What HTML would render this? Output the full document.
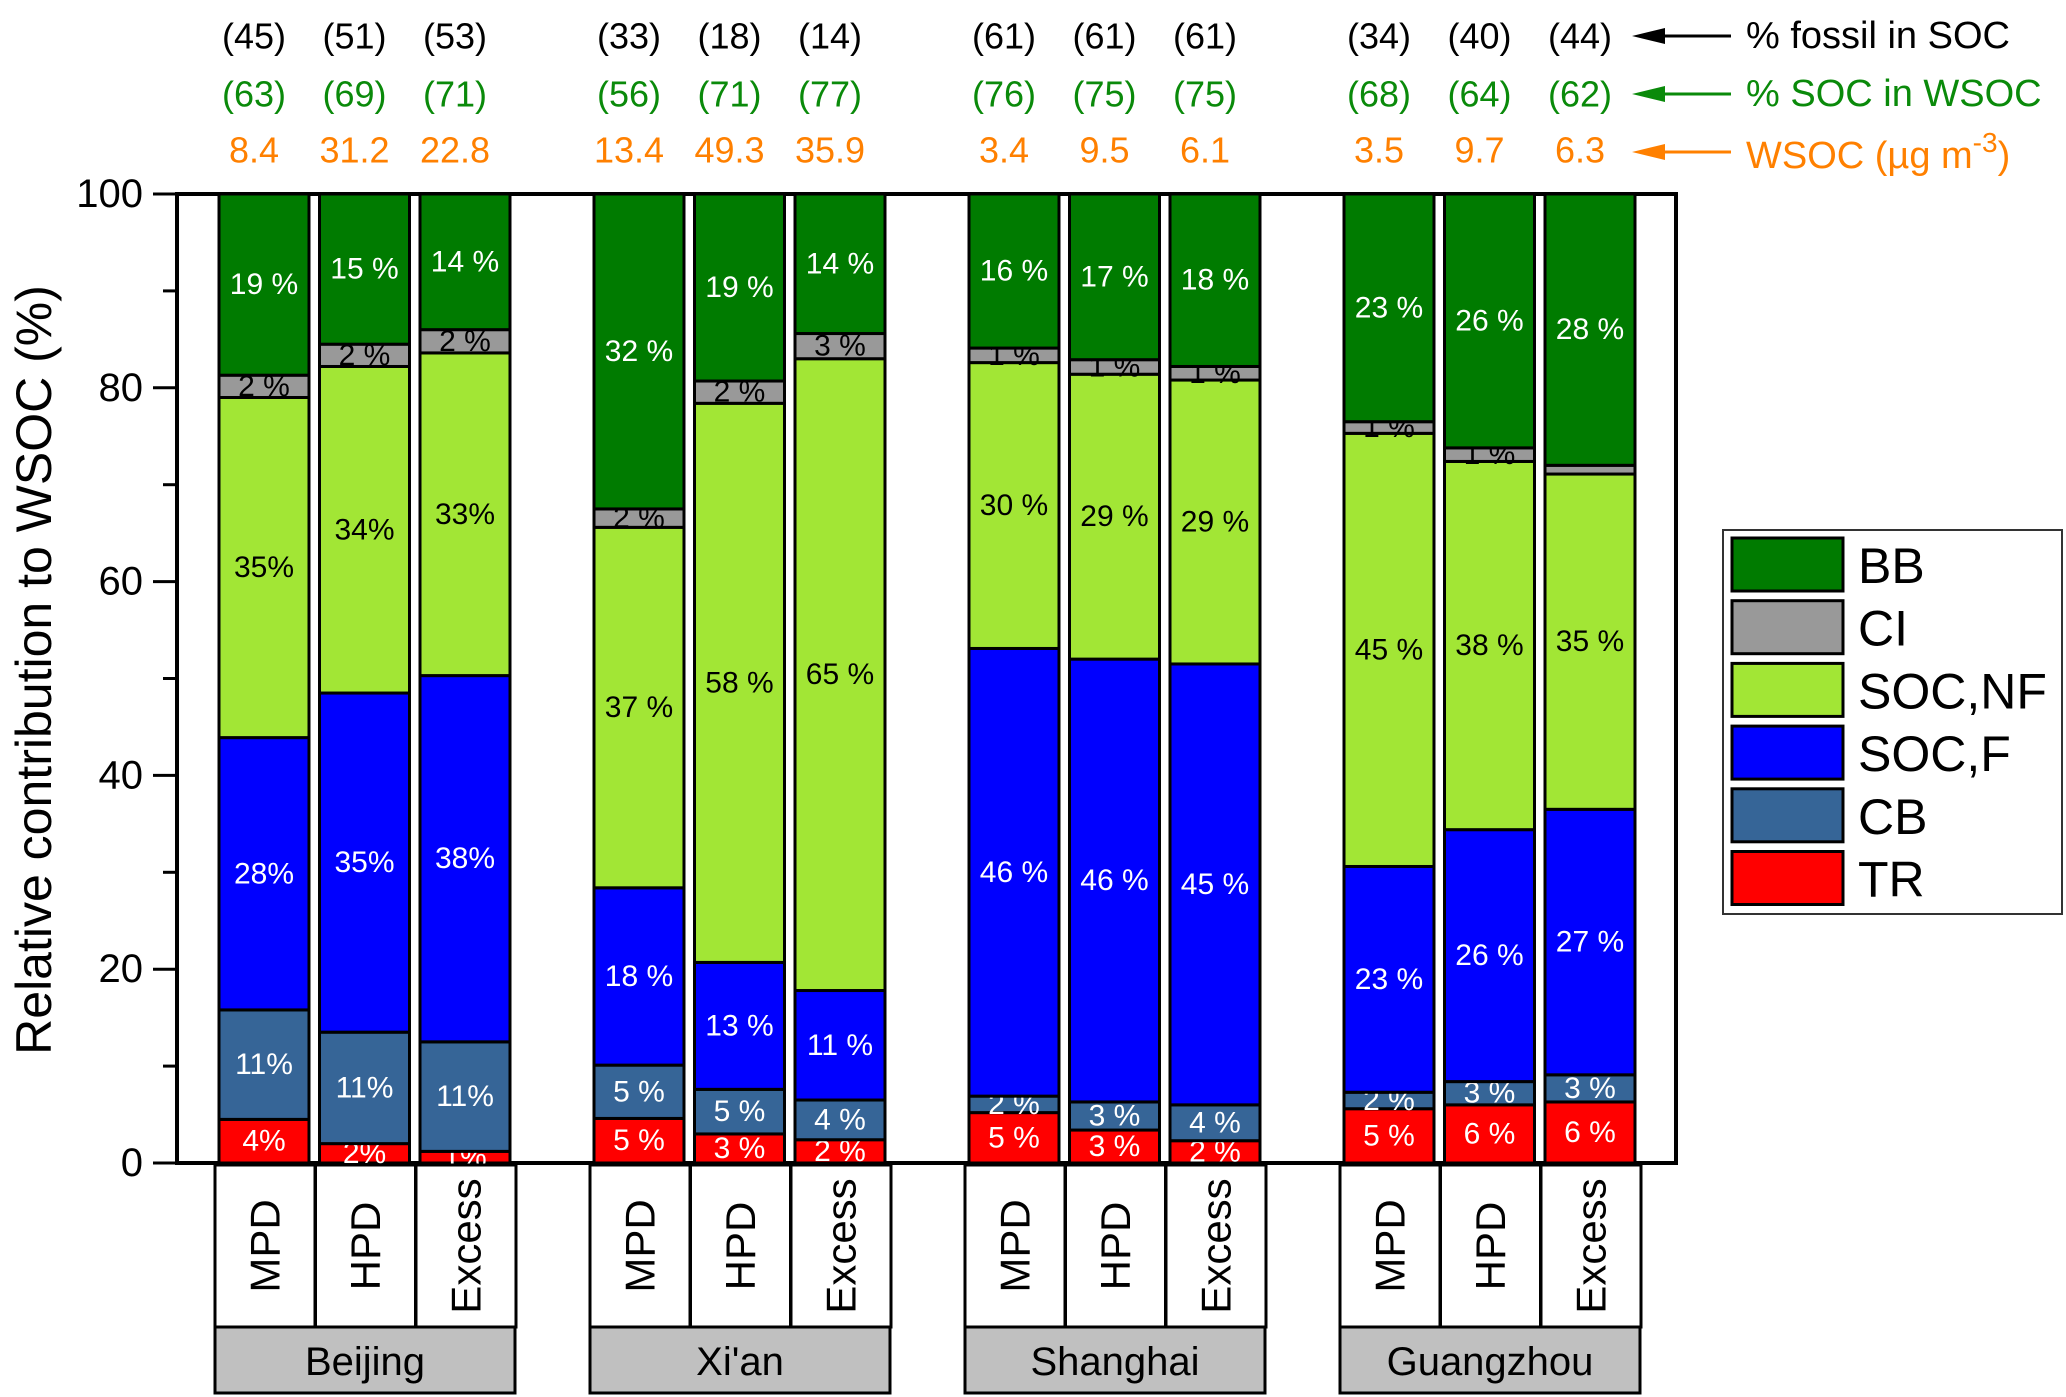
<!DOCTYPE html>
<html><head><meta charset="utf-8"><style>
html,body{margin:0;padding:0;background:#fff}
svg{display:block;font-family:"Liberation Sans Narrow","Liberation Sans",Arial,sans-serif}
</style></head><body>
<svg id="chart" width="2066" height="1397" viewBox="0 0 2066 1397" xmlns="http://www.w3.org/2000/svg">
<g id="plot"></g>
</svg>
<script>
const cities = ["Beijing","Xi'an","Shanghai","Guangzhou"];
const periods = ["MPD","HPD","Excess"];
const seriesNames = ["TR","CB","SOC,F","SOC,NF","CI","BB"];
const seriesColors = ["#ff0000","#366597","#0000ff","#a2e635","#999999","#007b00"];
const TR  = [4.5,2.0,1.2, 4.6,3.0,2.4, 5.2,3.4,2.3, 5.6,6.0,6.3];
const CB  = [11.3,11.5,11.3, 5.5,4.6,4.1, 1.7,2.9,3.7, 1.7,2.4,2.8];
const SOCF= [28.1,35.0,37.8, 18.3,13.1,11.3, 46.2,45.7,45.5, 23.3,26.0,27.4];
const SOCNF=[35.1,33.7,33.3, 37.2,57.7,65.2, 29.5,29.4,29.3, 44.7,38.0,34.6];
const CI  = [2.3,2.3,2.4, 1.9,2.3,2.6, 1.5,1.5,1.4, 1.2,1.4,0.9];
const BB  = [18.7,15.5,14.0, 32.5,19.3,14.4, 15.9,17.1,17.8, 23.5,26.2,28.0];
const labTR = ["4%","2%","1%","5 %","3 %","2 %","5 %","3 %","2 %","5 %","6 %","6 %"];
const labCB = ["11%","11%","11%","5 %","5 %","4 %","2 %","3 %","4 %","2 %","3 %","3 %"];
const labF  = ["28%","35%","38%","18 %","13 %","11 %","46 %","46 %","45 %","23 %","26 %","27 %"];
const labNF = ["35%","34%","33%","37 %","58 %","65 %","30 %","29 %","29 %","45 %","38 %","35 %"];
const labCI = ["2 %","2 %","2 %","2 %","2 %","3 %","1 %","1 %","1 %","1 %","1 %",""];
const labBB = ["19 %","15 %","14 %","32 %","19 %","14 %","16 %","17 %","18 %","23 %","26 %","28 %"];
const fossil = ["(45)","(51)","(53)","(33)","(18)","(14)","(61)","(61)","(61)","(34)","(40)","(44)"];
const socIn  = ["(63)","(69)","(71)","(56)","(71)","(77)","(76)","(75)","(75)","(68)","(64)","(62)"];
const wsoc   = ["8.4","31.2","22.8","13.4","49.3","35.9","3.4","9.5","6.1","3.5","9.7","6.3"];
const yTicks = [0,20,40,60,80,100];

const NS="http://www.w3.org/2000/svg";
const svg=document.getElementById('chart');
const g=document.getElementById('plot');
const Y0=1163, Y100=194;
const y=v=>Y0-(Y0-Y100)*v/100;
const barX=i=>219+Math.floor(i/3)*375+(i%3)*100.5;
const BW=90;
function mk(tag,attrs,parent){const e=document.createElementNS(NS,tag);for(const k in attrs)e.setAttribute(k,attrs[k]);(parent||g).appendChild(e);return e;}
function txt(x,yy,s,size,fill,anchor,parent){const t=mk('text',{x:x,y:yy,'font-size':size,fill:fill,'text-anchor':anchor||'middle','dominant-baseline':'central'},parent);t.textContent=s;return t;}

const frame=mk('rect',{x:177,y:Y100,width:1499,height:Y0-Y100,fill:'none',stroke:'#000','stroke-width':4});


for(let v=0;v<=100;v+=10){
  const len=v%20===0?24:14;
  const tk=mk('line',{x1:177-len,x2:177,y1:y(v),y2:y(v),stroke:'#000','stroke-width':3});
  
  
}
yTicks.forEach(v=>{
  const t=txt(143,y(v),String(v),40,'#000','end');
  
  
});
const yt=txt(0,0,'Relative contribution to WSOC (%)',50,'#000','middle');
yt.setAttribute('transform','translate(34,670) rotate(-90)');
yt.setAttribute('font-family','"Liberation Sans",Arial,sans-serif');



const series=[TR,CB,SOCF,SOCNF,CI,BB];
const labels=[labTR,labCB,labF,labNF,labCI,labBB];
const labColors=['#fff','#fff','#fff','#000','#000','#fff'];
for(let i=0;i<12;i++){
  let cum=0;
  const x=barX(i);
  for(let s=0;s<6;s++){
    const v=series[s][i];
    const top=(s===5)?100:cum+v;
    const r=mk('rect',{x:x,y:y(top),width:BW,height:y(cum)-y(top),fill:seriesColors[s],stroke:'#000','stroke-width':3});
    
    
    if(labels[s][i]){
      const t=txt(x+BW/2,(y(cum)+y(top))/2,labels[s][i],30,labColors[s]);
      
      
    }
    cum=top;
  }
  const a=txt(x+BW/2-10,36,fossil[i],36,'#000');
  
  
  const b=txt(x+BW/2-10,94,socIn[i],36,'#0a8a0a');
  
  
  const c=txt(x+BW/2-10,150,wsoc[i],36,'#ff8000');
  
  
  const bx=barX(i)-4;
  const cb=mk('rect',{x:bx,y:1165,width:100,height:162,fill:'#fff',stroke:'#000','stroke-width':3});
  
  
  const pt=txt(0,0,periods[i%3],42,'#000','middle');
  pt.setAttribute('font-family','"Liberation Sans",Arial,sans-serif');
  pt.setAttribute('transform','translate('+(bx+50)+',1246) rotate(-90)');
  
  
}
cities.forEach((c,k)=>{
  const bx=barX(k*3)-4;
  const r=mk('rect',{x:bx,y:1327,width:300,height:66,fill:'#c0c0c0',stroke:'#000','stroke-width':3});
  
  
  const t=txt(bx+150,1362,c,40,'#000');
  t.setAttribute('font-family','"Liberation Sans",Arial,sans-serif');
  
  
});
const ann=[["% fossil in SOC","#000",36],["% SOC in WSOC","#0a8a0a",94],["WSOC (µg m","#ff8000",152]];
ann.forEach((a,k)=>{
  const l=mk('line',{x1:1650,x2:1731,y1:a[2],y2:a[2],stroke:a[1],'stroke-width':3});
  
  
  const p=mk('polygon',{points:(1632)+','+a[2]+' '+(1665)+','+(a[2]-8)+' '+(1665)+','+(a[2]+8),fill:a[1]});
  
  
  const t=txt(1746,a[2]+(k==2?4:0),a[0],38,a[1],'start');
  
  
  if(k===2){
    const ts=document.createElementNS(NS,'tspan');ts.setAttribute('dy','-14');ts.setAttribute('font-size','28');ts.textContent='-3';t.appendChild(ts);
    const ts2=document.createElementNS(NS,'tspan');ts2.setAttribute('dy','14');ts2.textContent=')';t.appendChild(ts2);
  }
});
const lb=mk('rect',{x:1723,y:530,width:339,height:384,fill:'#fff',stroke:'#333','stroke-width':2});


for(let k=0;k<6;k++){
  const s=5-k;
  const yy=538+k*62.7;
  const r=mk('rect',{x:1732,y:yy,width:111,height:53,fill:seriesColors[s],stroke:'#000','stroke-width':3});
  
  
  const t=txt(1858,yy+28,seriesNames[s],50,'#000','start');
  t.setAttribute('font-family','"Liberation Sans",Arial,sans-serif');
  
  
}
</script>
</body></html>
